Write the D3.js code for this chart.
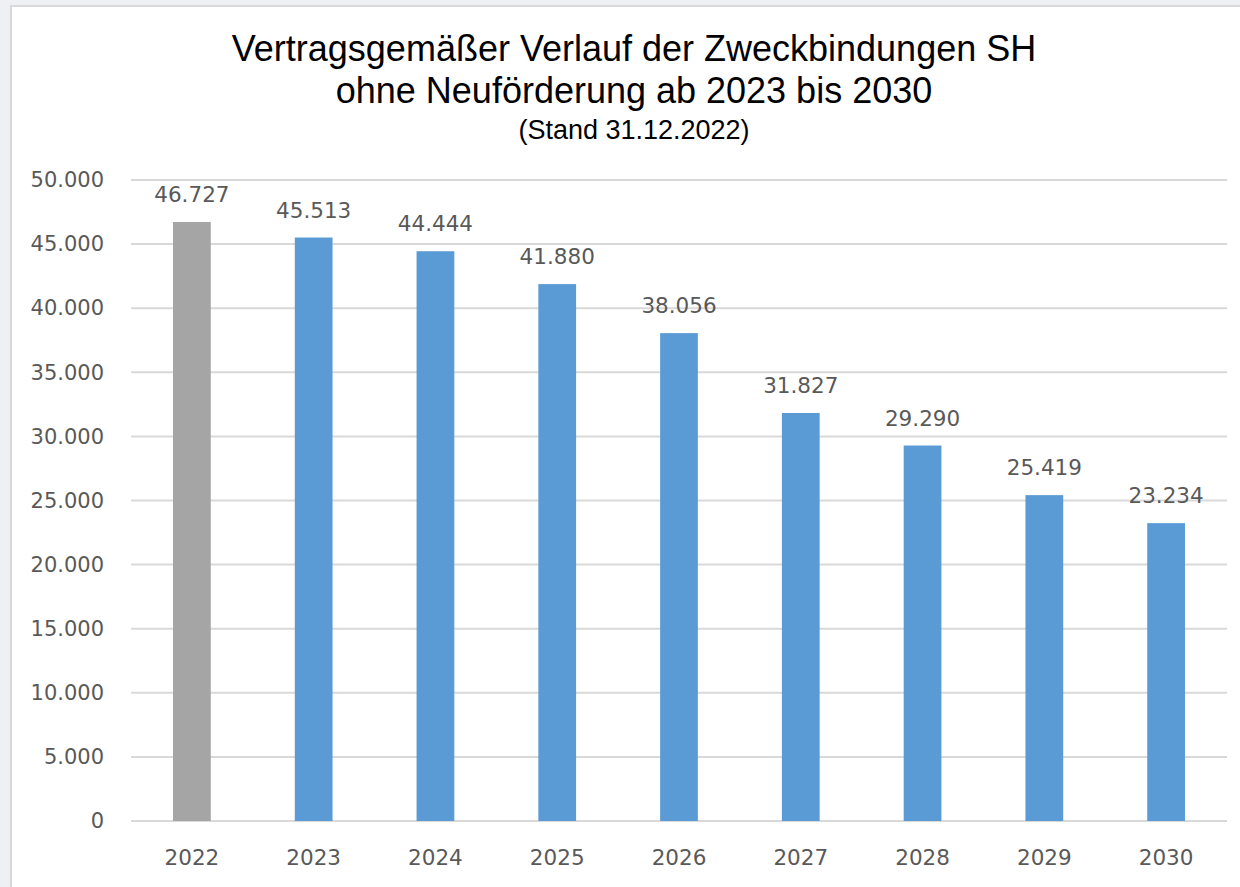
<!DOCTYPE html>
<html>
<head>
<meta charset="utf-8">
<script src="https://cdn.jsdelivr.net/npm/d3@7"></script>
<style>
  html, body { margin: 0; padding: 0; background: #eff0f4; }
  svg { display: block; }
</style>
</head>
<body>
<svg id="chart"></svg>
<script>
'use strict'

const years = ['2022', '2023', '2024', '2025', '2026', '2027', '2028', '2029', '2030']
const bindings = [46727, 45513, 44444, 41880, 38056, 31827, 29290, 25419, 23234]
const barColors = ['#a5a5a5', '#5b9bd5', '#5b9bd5', '#5b9bd5', '#5b9bd5', '#5b9bd5', '#5b9bd5', '#5b9bd5', '#5b9bd5']
const yTicks = [0, 5000, 10000, 15000, 20000, 25000, 30000, 35000, 40000, 45000, 50000]
const titleLines = ['Vertragsgemäßer Verlauf der Zweckbindungen SH', 'ohne Neuförderung ab 2023 bis 2030']
const subTitle = '(Stand 31.12.2022)'

const width = 1240, height = 887
const margin = { top: 180, right: 13, bottom: 66, left: 131 }

const de = d3.formatLocale({ decimal: ',', thousands: '.', grouping: [3], currency: ['', ' €'] })
const fmt = de.format(',')

const labelFont = 'DejaVu Sans, sans-serif'

const svg = d3.select('#chart').attr('width', width).attr('height', height)

// chart frame
svg.append('rect')
    .attr('x', 11).attr('y', 6)
    .attr('width', width).attr('height', height)
    .attr('fill', '#ffffff')
    .attr('stroke', '#d9d9d9')
    .attr('stroke-width', 2)

let x = d3.scaleBand()
    .domain(years)
    .range([margin.left, width - margin.right])
    .paddingInner(0.69)
    .paddingOuter(0.345)

let y = d3.scaleLinear()
    .domain([0, 50000])
    .range([height - margin.bottom, margin.top])

// gridlines
svg.append('g')
    .selectAll('line')
    .data(yTicks)
    .join('line')
    .attr('x1', margin.left).attr('x2', width - margin.right)
    .attr('y1', d => y(d)).attr('y2', d => y(d))
    .attr('stroke', '#d9d9d9')
    .attr('stroke-width', 2)

// y axis labels
let yAxis = svg.append('g')
    .attr('transform', 'translate(' + (margin.left - 27) + ',0)')
    .call(d3.axisLeft(y).tickValues(yTicks).tickFormat(fmt).tickSize(0).tickPadding(0))
yAxis.select('.domain').remove()
yAxis.selectAll('text')
    .attr('fill', '#595959')
    .style('font-family', labelFont)
    .style('font-size', '21px')

// x axis labels
let xAxis = svg.append('g')
    .attr('transform', 'translate(0,' + (height - margin.bottom) + ')')
    .call(d3.axisBottom(x).tickSize(0).tickPadding(29))
xAxis.select('.domain').remove()
xAxis.selectAll('text')
    .attr('fill', '#595959')
    .style('font-family', labelFont)
    .style('font-size', '21.5px')

// bars
svg.append('g')
    .selectAll('rect')
    .data(bindings)
    .join('rect')
    .attr('x', (d, i) => x(years[i]))
    .attr('y', d => y(d))
    .attr('width', x.bandwidth())
    .attr('height', d => y(0) - y(d))
    .attr('fill', (d, i) => barColors[i])

// value labels
svg.append('g')
    .selectAll('text')
    .data(bindings)
    .join('text')
    .attr('x', (d, i) => x(years[i]) + x.bandwidth() / 2)
    .attr('y', d => y(d) - 20)
    .attr('text-anchor', 'middle')
    .attr('fill', '#595959')
    .style('font-family', labelFont)
    .style('font-size', '21.5px')
    .text(d => fmt(d))

// title
svg.append('g')
    .selectAll('text')
    .data(titleLines)
    .join('text')
    .attr('x', 634)
    .attr('y', (d, i) => 61 + i * 42)
    .attr('text-anchor', 'middle')
    .attr('fill', '#000000')
    .style('font-family', 'Liberation Sans, Arial, sans-serif')
    .style('font-size', '36px')
    .text(d => d)

svg.append('text')
    .attr('x', 634)
    .attr('y', 139)
    .attr('text-anchor', 'middle')
    .attr('fill', '#000000')
    .style('font-family', 'Liberation Sans, Arial, sans-serif')
    .style('font-size', '27px')
    .text(subTitle)
</script>
</body>
</html>
